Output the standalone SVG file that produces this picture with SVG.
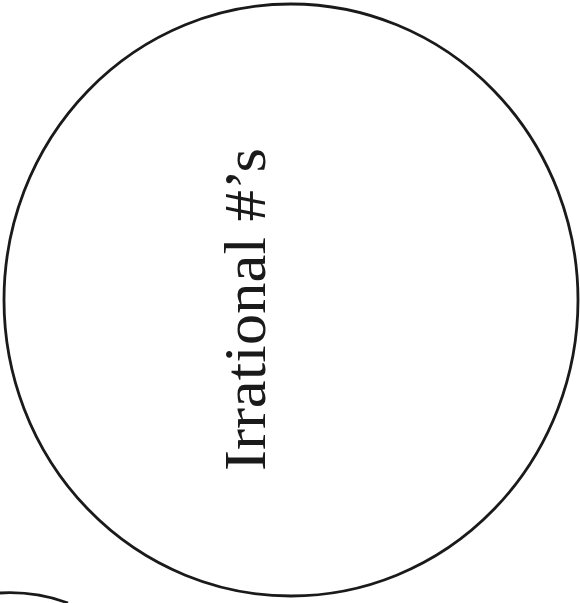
<svg xmlns="http://www.w3.org/2000/svg" width="580" height="603" viewBox="0 0 580 603">
<style>
.ring{fill:none;stroke:#1a1a1a;stroke-width:2.8}
.lbl{font-family:"Liberation Serif","DejaVu Serif",serif;font-size:60px;fill:#1a1a1a}
</style>
<rect width="580" height="603" fill="#ffffff"/>
<g id="irrational">
<ellipse class="ring" cx="291" cy="300" rx="287" ry="296"/>
<text class="lbl" transform="translate(265,471) rotate(-90)" textLength="323" lengthAdjust="spacingAndGlyphs">Irrational #’s</text>
</g>
<g id="partial-circle">
<path class="ring" d="M0,593 Q35,591 68,603"/>
</g>
<g id="connectors"></g>
</svg>
